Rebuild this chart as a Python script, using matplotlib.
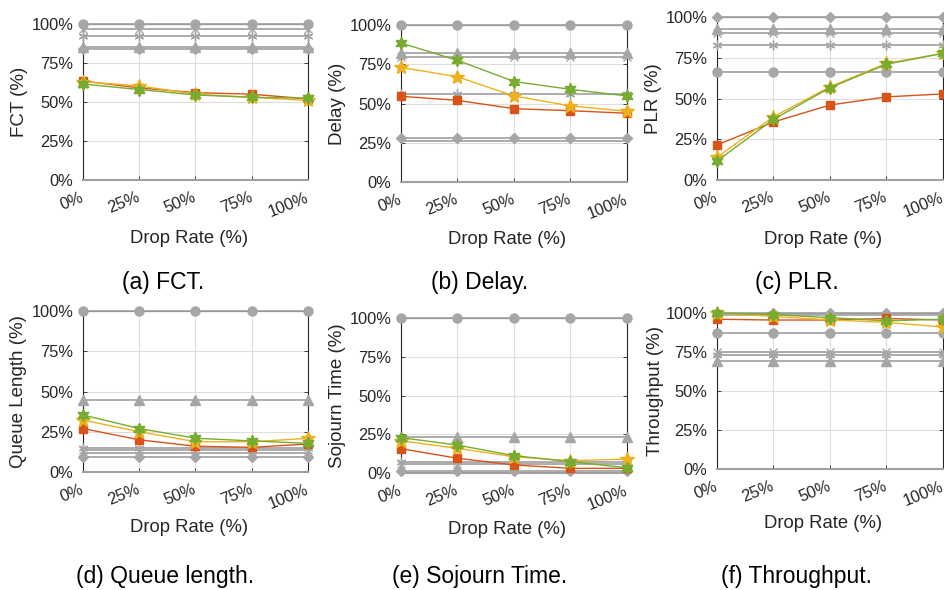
import matplotlib
matplotlib.use('Agg')
import matplotlib.pyplot as plt

plt.rcParams['font.family'] = ['Liberation Sans', 'DejaVu Sans']

# ---------------- data ----------------
drop_rate = [0, 25, 50, 75, 100]
xtick_labels = ['0%', '25%', '50%', '75%', '100%']
ytick_vals = [0, 25, 50, 75, 100]
ytick_labels = ['0%', '25%', '50%', '75%', '100%']

fct_red = [63.5, 59, 56, 55, 52]
fct_yellow = [63, 60.3, 55, 53, 51]
fct_green = [61.5, 58, 54.5, 53, 52.5]

delay_red = [54.6, 52, 46.7, 45.4, 43.8]
delay_yellow = [73, 67, 54.8, 48.5, 45]
delay_green = [88.5, 77.5, 64, 59, 54.8]

plr_red = [21.5, 35.6, 46, 51, 52.8]
plr_yellow = [14, 38.8, 57.2, 71.6, 77.7]
plr_green = [11.7, 37.2, 56.6, 71, 77.7]

queue_red = [27, 20, 16, 15.3, 17.4]
queue_yellow = [32.3, 25, 18.8, 18.8, 20.9]
queue_green = [35.4, 27, 21, 19.3, 17.8]

sojourn_red = [15.7, 9.5, 5.2, 3, 3]
sojourn_yellow = [20.8, 15.9, 10.5, 7.9, 9]
sojourn_green = [22.8, 18, 11.2, 7.3, 3.4]

thr_red = [96, 95.5, 95.5, 96.5, 95.5]
thr_yellow = [100, 97.8, 95.6, 94, 91]
thr_green = [100, 99, 97, 95, 96]

# gray baselines (constant levels), order: circle, asterisk, x, triangle, diamond, plain
fct_gray = [100, 92, 96.8, 85.5, 83.8, None]
delay_gray = [100, 56, 79.5, 82, 28, 26]
plr_gray = [66, 83, 90, 92.5, 100, None]
queue_gray = [100, 15, 13.7, 45, 9.5, 11.6]
sojourn_gray = [100, 7, 5.8, 23, 1, None]
thr_gray = [87, 73, 75, 69, 100, 99]

metric_names = ['FCT (%)', 'Delay (%)', 'PLR (%)', 'Queue Length (%)', 'Sojourn Time (%)', 'Throughput (%)']
captions = ['(a) FCT.', '(b) Delay.', '(c) PLR.', '(d) Queue length.', '(e) Sojourn Time.', '(f) Throughput.']
xlabel_text = 'Drop Rate (%)'

# ---------------- style ----------------
W, H = 945, 590
RED, YEL, GRN, GRAY = '#D95319', '#EDB120', '#77AC30', '#A6A6A6'
TXT = '#262626'
gray_markers = ['o', (6, 2, 0), 'x', '^', 'D', None]
gray_msizes = [6.5, 7, 6, 7, 5, 0]

# axes boxes in pixels: left, right, top(100%), bottom(0%)
boxes = [
    (83, 308, 24, 180), (401, 627, 25, 182), (717, 943, 17, 180),
    (83, 308, 311, 472), (401, 627, 318, 473), (717, 943, 313, 469),
]
caption_pos = [(163, 283), (480, 283), (797, 283), (165, 576), (480, 576), (797, 576)]
xlabel_pos = [(189, 238), (507, 240), (823, 240), (189, 527), (507, 530), (823, 524)]
ylabel_x = [19, 337, 653, 18, 337, 655]

fig = plt.figure(figsize=(W / 100, H / 100), dpi=100)

series = [
    (fct_gray, fct_red, fct_yellow, fct_green),
    (delay_gray, delay_red, delay_yellow, delay_green),
    (plr_gray, plr_red, plr_yellow, plr_green),
    (queue_gray, queue_red, queue_yellow, queue_green),
    (sojourn_gray, sojourn_red, sojourn_yellow, sojourn_green),
    (thr_gray, thr_red, thr_yellow, thr_green),
]

for i, (gray, red, yel, grn) in enumerate(series):
    l, r, t, b = boxes[i]
    ax = fig.add_axes([l / W, 1 - b / H, (r - l) / W, (b - t) / H])
    ax.set_xlim(0, 100)
    ax.set_ylim(0, 100)
    ax.grid(True, color='#DEDEDE', linewidth=0.8)
    ax.set_axisbelow(True)

    for lvl, mk, ms in zip(gray, gray_markers, gray_msizes):
        if lvl is None:
            continue
        ax.plot(drop_rate, [lvl] * len(drop_rate), color=GRAY, linewidth=1.3,
                marker=mk, markersize=ms, markerfacecolor=GRAY, markeredgecolor=GRAY,
                clip_on=False, zorder=2.7)

    ax.plot(drop_rate, red, color=RED, linewidth=1.0, marker='s', markersize=6,
            markerfacecolor=RED, markeredgecolor=RED, clip_on=False, zorder=3)
    ax.plot(drop_rate, yel, color=YEL, linewidth=1.0, marker='*', markersize=10,
            markerfacecolor=YEL, markeredgecolor=YEL, clip_on=False, zorder=4)
    ax.plot(drop_rate, grn, color=GRN, linewidth=1.0, marker=(6, 1, 0), markersize=9,
            markerfacecolor=GRN, markeredgecolor=GRN, clip_on=False, zorder=5)

    ax.set_xticks(drop_rate)
    ax.set_xticklabels(xtick_labels)
    ax.set_yticks(ytick_vals)
    ax.set_yticklabels(ytick_labels)
    ax.tick_params(axis='both', direction='in', length=3, width=0.6, colors=TXT,
                   labelsize=11.8, top=True, right=True)
    ax.tick_params(axis='y', pad=7)
    ax.tick_params(axis='x', pad=12)
    for lab in ax.get_xticklabels():
        lab.set_rotation(22)
        lab.set_ha('right')
        lab.set_va('center')
        lab.set_rotation_mode('anchor')
    for side in ['left', 'right', 'top']:
        ax.spines[side].set_color(TXT)
        ax.spines[side].set_linewidth(0.8)
    ax.spines['bottom'].set_color('#A0A0A0')
    ax.spines['bottom'].set_linewidth(1.5)

    ax.set_ylabel(metric_names[i], fontsize=13.5, color=TXT)
    ax.yaxis.set_label_coords((ylabel_x[i] + 9 - l) / (r - l), 0.5)

    xx, yy = xlabel_pos[i]
    fig.text(xx / W, 1 - yy / H, xlabel_text, fontsize=13.3, color=TXT, ha='center', va='center')
    cx, cy = caption_pos[i]
    fig.text(cx / W, 1 - cy / H, captions[i], fontsize=16.5, color='black', ha='center', va='center')

fig.savefig('out.png', dpi=100)
